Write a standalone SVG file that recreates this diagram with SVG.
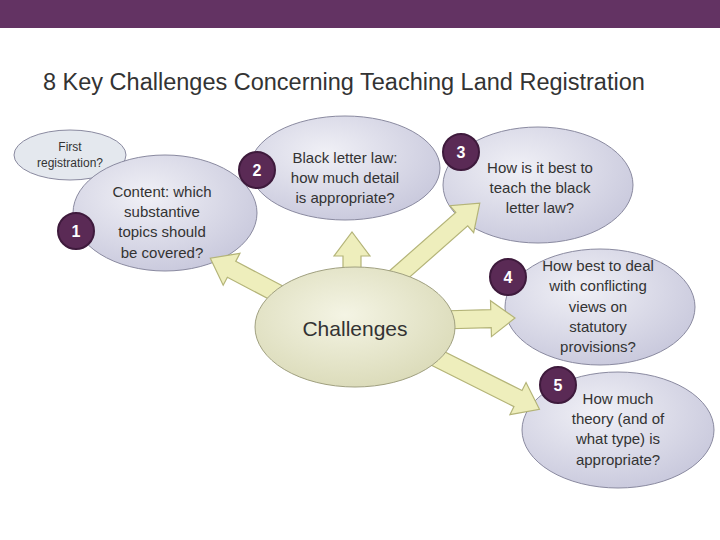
<svg xmlns="http://www.w3.org/2000/svg" width="720" height="540" viewBox="0 0 720 540">
<defs>
<radialGradient id="bub" cx="0.4" cy="0.35" r="0.7"><stop offset="0" stop-color="#f0f0f6"/><stop offset="1" stop-color="#c8c8dc"/></radialGradient>
<radialGradient id="ch" cx="0.45" cy="0.4" r="0.7"><stop offset="0" stop-color="#f4f4e4"/><stop offset="1" stop-color="#d8d8b4"/></radialGradient>
</defs>
<style>
.b{fill:url(#bub);stroke:#8a8aa0;stroke-width:1}
.arr{fill:#eeeebc;stroke:#b4b478;stroke-width:1.2}
.badge{fill:#5a2a55;stroke:#3e1a3c;stroke-width:2}
.n{font-family:"Liberation Sans",Arial,sans-serif;font-size:16px;font-weight:bold;fill:#fff;text-anchor:middle}
.t{font-family:"Liberation Sans",Arial,sans-serif;font-size:15px;fill:#333;text-anchor:middle}
.s{font-size:12px}
.c{font-size:21px}
</style>
<rect width="720" height="540" fill="#fff"/>
<rect x="0" y="0" width="720" height="28" fill="#633363"/>
<text x="43" y="90" style="font-family:'Liberation Sans',Arial,sans-serif;font-size:23.5px" fill="#333">8 Key Challenges Concerning Teaching Land Registration</text>
<g id="n0"><ellipse cx="70" cy="155" rx="56" ry="25" fill="#e4e8ee" stroke="#8a8aa0"/>
<text class="t s" x="70" y="151">First</text><text class="t s" x="70" y="167">registration?</text></g>
<g id="n1"><ellipse class="b" cx="165" cy="213" rx="92" ry="58"/>
<text class="t" x="162" y="197">Content: which</text><text class="t" x="162" y="217">substantive</text><text class="t" x="162" y="237">topics should</text><text class="t" x="162" y="258">be covered?</text></g>
<g id="n2"><ellipse class="b" cx="345" cy="168" rx="95" ry="52"/>
<text class="t" x="345" y="163">Black letter law:</text><text class="t" x="345" y="183">how much detail</text><text class="t" x="345" y="203">is appropriate?</text></g>
<g id="n3"><ellipse class="b" cx="538" cy="185" rx="95" ry="58"/>
<text class="t" x="540" y="173">How is it best to</text><text class="t" x="540" y="193">teach the black</text><text class="t" x="540" y="213">letter law?</text></g>
<g id="n4"><ellipse class="b" cx="600" cy="307" rx="95" ry="58"/>
<text class="t" x="598" y="271">How best to deal</text><text class="t" x="598" y="291">with conflicting</text><text class="t" x="598" y="312">views on</text><text class="t" x="598" y="332">statutory</text><text class="t" x="598" y="352">provisions?</text></g>
<g id="n5"><ellipse class="b" cx="618" cy="430" rx="96" ry="58"/>
<text class="t" x="618" y="404">How much</text><text class="t" x="618" y="424">theory (and of</text><text class="t" x="618" y="444">what type) is</text><text class="t" x="618" y="465">appropriate?</text></g>
<g id="connectors">
<polygon class="arr" transform="translate(290,300) rotate(207.7)" points="0,-9 66,-9 66,-18 90,0 66,18 66,9 0,9"/>
<polygon class="arr" transform="translate(352,275) rotate(-90)" points="0,-9 19,-9 19,-18 43,0 19,18 19,9 0,9"/>
<polygon class="arr" transform="translate(395,278) rotate(-41.4)" points="0,-9 89,-9 89,-18 113,0 89,18 89,9 0,9"/>
<polygon class="arr" transform="translate(440,320) rotate(-1.5)" points="0,-9 51,-9 51,-18 75,0 51,18 51,9 0,9"/>
<polygon class="arr" transform="translate(425,352) rotate(26.6)" points="0,-9 104,-9 104,-18 128,0 104,18 104,9 0,9"/>
</g>
<g id="center"><ellipse cx="355" cy="327" rx="100" ry="60" fill="url(#ch)" stroke="#a0a080"/>
<text class="t c" x="355" y="336">Challenges</text></g>
<g id="badges">
<circle class="badge" cx="76" cy="231" r="18"/><text class="n" x="76" y="237">1</text>
<circle class="badge" cx="257" cy="170" r="18"/><text class="n" x="257" y="176">2</text>
<circle class="badge" cx="461" cy="152" r="18"/><text class="n" x="461" y="158">3</text>
<circle class="badge" cx="508" cy="277" r="18"/><text class="n" x="508" y="283">4</text>
<circle class="badge" cx="558" cy="385" r="18"/><text class="n" x="558" y="391">5</text>
</g>
</svg>
